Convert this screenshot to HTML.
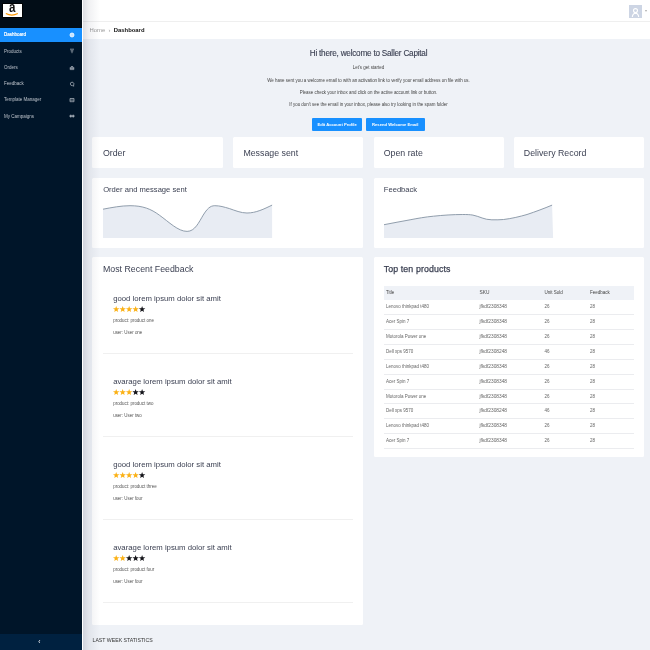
<!DOCTYPE html>
<html><head><meta charset="utf-8"><title>Dashboard</title>
<style>
*{box-sizing:border-box;margin:0;padding:0}
html,body{width:650px;height:650px;overflow:hidden;background:#eff2f7;font-family:"Liberation Sans",sans-serif;color:#3a3f51}
.abs{position:absolute}
#side{position:absolute;left:0;top:0;width:82.4px;height:650px;background:#001529;z-index:5}
#shade{position:absolute;left:82.4px;top:0;width:18px;height:650px;z-index:6;background:linear-gradient(90deg,#fff 0,#fff 1.4px,rgba(10,15,50,.13) 1.5px,rgba(10,15,50,.06) 7px,rgba(10,15,50,0) 18px)}
#logo{position:absolute;left:0;top:0;width:82px;height:28px;background:#020d17}
#logo .box{position:absolute;left:3px;top:3.9px;width:18.7px;height:12.7px;background:#fff;box-shadow:0 0 0 .8px #000}
#logo .a{position:absolute;left:0.2px;top:-3.5px;width:18.7px;text-align:center;font-size:14.5px;font-weight:bold;color:#111;line-height:1;transform:scaleX(.8)}
.mi{position:absolute;left:0;width:82.5px;height:13.5px;color:#bcc3cb;font-size:4.5px;line-height:13.5px;padding-left:4px}
.mi.act{background:#1890ff;color:#fff;text-shadow:0 0 .3px #fff}
.mi svg{position:absolute;left:68.900px;top:3.75px;width:6px;height:6px;stroke:#9fa8b3;fill:none;stroke-width:.8}
.mi.act svg{stroke:#fff}
#trig{position:absolute;left:0;top:633.7px;width:82.5px;height:16.3px;background:#002140;color:#fff;font-size:6.5px;text-align:center;line-height:15px;padding-right:4px}
#head{position:absolute;left:82px;top:0;width:568px;height:22px;background:#fff;border-bottom:1px solid #efefef}
#crumb{position:absolute;left:82px;top:22px;width:568px;height:16.5px;background:#fff;font-size:5.9px;line-height:16.6px;color:#9a9a9a;padding-left:7.5px}
#crumb b{color:#111}
#avatar{position:absolute;left:629px;top:4.5px;width:13px;height:13px;background:#cdd5e4}
.card{position:absolute;background:#fff;border-radius:1.5px}
.t1{position:absolute;font-size:8.8px;color:#3a3f51;white-space:nowrap}
.t2{position:absolute;margin-top:.6px;font-size:7.6px;color:#3a3f51;white-space:nowrap}
.c{position:absolute;left:87px;width:563px;text-align:center;white-space:nowrap}
.sm{font-size:4.45px;color:#444}
.btn{position:absolute;top:118.2px;height:13.2px;background:#1890ff;color:#fff;font-size:4.15px;font-weight:bold;line-height:13.2px;text-align:center;border-radius:1px}
.fb{position:absolute;left:0;width:271px}
.fb .ti{position:absolute;left:21px;top:0;font-size:7.75px;color:#3a3f51;white-space:nowrap}
.fb .st{position:absolute;left:20.7px;top:11.9px}
.fb .p{position:absolute;left:21px;font-size:4.45px;color:#555;margin-top:-.1px;white-space:nowrap}
.fb .hr{position:absolute;left:11px;width:250px;top:59.1px;height:1px;background:#f0f0f0}
.tr{position:absolute;left:10.500px;width:250px;height:14.9px;border-bottom:.8px solid #ebecef;font-size:4.5px;color:#666;line-height:14.7px}
.tr span{position:absolute;top:0;white-space:nowrap}
.tr .a{left:2px}.tr .b{left:95.500px;font-size:4.8px}.tr .c2{left:160.500px}.tr .d{left:206px}
.th{background:#eff2f7;border-bottom:none;color:#444;height:14.3px;line-height:14.3px}
</style></head><body>
<div id="side">
 <div id="logo"><div class="box"><div class="a">a</div><svg class="abs" style="left:0;top:0" width="18" height="13" viewBox="0 0 18 13"><path d="M2.800 9.600 Q9 12.600 14.800 9.600" fill="none" stroke="#f90" stroke-width="1.1"/></svg></div></div>
 <div class="mi act" style="top:28.3px">Dashboard<svg viewBox="0 0 6 6"><circle cx="3" cy="3" r="2" fill="#fff" fill-opacity=".75"/></svg></div>
 <div class="mi" style="top:44.6px">Products<svg viewBox="0 0 6 6"><path d="M1 1.200H5M1.600 2.800H4.400M3 2.800V5.200"/></svg></div>
 <div class="mi" style="top:60.8px">Orders<svg viewBox="0 0 6 6"><path d="M1.200 4.600V2.400H4.800V4.600ZM1.800 2.200 3 1 4.200 2.200M1 3.500H5"/></svg></div>
 <div class="mi" style="top:77.1px">Feedback<svg viewBox="0 0 6 6"><path d="M3 1.200A1.800 1.700 0 1 0 3.300 4.600L4.800 5.200 4.500 4A1.800 1.700 0 0 0 3 1.200Z"/></svg></div>
 <div class="mi" style="top:93.4px">Template Manager<svg viewBox="0 0 6 6"><path d="M1 1.500H5V4.700H1ZM1 3.100H5"/></svg></div>
 <div class="mi" style="top:109.6px">My Campaigns<svg viewBox="0 0 6 6"><path d="M1 2.200H2.400V4H1ZM3.600 2.200H5V4H3.600Z" fill="#aab2bc"/></svg></div>
 <div id="trig">&#x2039;</div>
</div>
<div id="shade"></div>
<div id="head"></div>
<div id="avatar"><svg width="13" height="13" viewBox="0 0 13 13"><circle cx="6.5" cy="4.6" r="2" fill="none" stroke="#fff" stroke-width="1.1"/><path d="M3.3 11 Q3.6 7.4 6.5 7.2 Q9.4 7.4 9.7 11" fill="none" stroke="#fff" stroke-width="1.1"/></svg></div>
<div class="abs" style="left:645px;top:10px;width:0;height:0;border-left:1.5px solid transparent;border-right:1.5px solid transparent;border-top:2px solid #aaa"></div>
<div id="crumb">Home &nbsp;&#x203A;&nbsp; <b>Dashboard</b></div>

<div class="c" style="top:49.2px;font-size:8.2px;letter-spacing:-.23px;color:#3a3f51;-webkit-text-stroke:.12px #3a3f51">Hi there, welcome to Saller Capital</div>
<div class="c sm" style="top:65.4px">Let's get started</div>
<div class="c sm" style="top:77.6px">We have sent you a welcome email to with an activation link to verify your email address on file with us.</div>
<div class="c sm" style="top:89.7px">Please check your inbox and click on the active account link or button.</div>
<div class="c sm" style="top:102.1px">If you don't see the email in your inbox, please also try looking in the spam folder</div>
<div class="btn" style="left:311.8px;width:50.6px">Edit Account Profile</div>
<div class="btn" style="left:365.7px;width:59.2px">Resend Welcome Email</div>

<div class="card" style="left:92.2px;top:136.8px;width:130.5px;height:31.5px"><div class="t1" style="left:10.7px;top:10.9px">Order</div></div>
<div class="card" style="left:233px;top:136.8px;width:130.1px;height:31.5px"><div class="t1" style="left:10.4px;top:10.9px">Message sent</div></div>
<div class="card" style="left:373.5px;top:136.8px;width:130.2px;height:31.5px"><div class="t1" style="left:10.2px;top:10.9px">Open rate</div></div>
<div class="card" style="left:513.8px;top:136.8px;width:130.4px;height:31.5px"><div class="t1" style="left:10px;top:10.9px">Delivery Record</div></div>

<div class="card" style="left:92.2px;top:177.8px;width:270.9px;height:69.8px"><div class="t2" style="left:11px;top:7px">Order and message sent</div>
<svg class="abs" style="left:11px;top:20.2px" width="170" height="42" viewBox="0 0 170 42"><path d="M0 11.2 C9 9.5 18 7.7 27 7.7 C40 7.7 48 11 56.3 17.1 C66 24 75 33.4 84.1 33.4 C92 33.4 96 24 100.2 17.1 C104 11 107 7.7 111.8 7.7 C117 7.7 121 9 126.5 10.6 C132 12.5 138 15 144 15 C153 15 161 11 169.1 7.1 L169.1 39.9 L0 39.9 Z" fill="#e8ecf3"/><path d="M0 11.2 C9 9.5 18 7.7 27 7.7 C40 7.7 48 11 56.3 17.1 C66 24 75 33.4 84.1 33.4 C92 33.4 96 24 100.2 17.1 C104 11 107 7.7 111.8 7.7 C117 7.7 121 9 126.5 10.6 C132 12.5 138 15 144 15 C153 15 161 11 169.1 7.1" fill="none" stroke="#8593a3" stroke-width="0.9"/></svg></div>
<div class="card" style="left:373.5px;top:177.8px;width:270.7px;height:69.8px"><div class="t2" style="left:10.3px;top:7px">Feedback</div>
<svg class="abs" style="left:10.2px;top:20.2px" width="170" height="42" viewBox="0 0 170 42"><path d="M0 26.7 C9 25 17 23.4 26.1 21.8 C34 20.3 41 19 49.5 18.2 C59 17.2 69 16.5 78.7 16.5 C83 16.5 86 16.6 88.9 17.1 C96 18.5 100 21.8 107.9 21.8 C112 21.9 116 21.8 119.6 21.5 C128 20.5 136 18.5 143 16.5 C152 13.5 160 10.5 168.1 7.1 L169.1 39.9 L0 39.9 Z" fill="#e8ecf3"/><path d="M0 26.7 C9 25 17 23.4 26.1 21.8 C34 20.3 41 19 49.5 18.2 C59 17.2 69 16.5 78.7 16.5 C83 16.5 86 16.6 88.9 17.1 C96 18.5 100 21.8 107.9 21.8 C112 21.9 116 21.8 119.6 21.5 C128 20.5 136 18.5 143 16.5 C152 13.5 160 10.5 168.1 7.1" fill="none" stroke="#8593a3" stroke-width="0.9"/></svg></div>

<div class="card" style="left:92.2px;top:257.2px;width:270.9px;height:368px"><div class="t1" style="left:10.8px;top:6.800px">Most Recent Feedback</div>
 <div class="fb" style="top:37px"><div class="ti">good lorem ipsum dolor sit amit</div><svg class="st" width="33" height="7" viewBox="0 0 33 7"><polygon points="3.20,0.04 4.03,2.26 6.40,2.36 4.54,3.84 5.17,6.12 3.20,4.81 1.23,6.12 1.86,3.84 0.00,2.36 2.37,2.26" fill="#fbb116"/><polygon points="9.68,0.04 10.50,2.26 12.87,2.36 11.02,3.84 11.65,6.12 9.68,4.81 7.70,6.12 8.33,3.84 6.48,2.36 8.85,2.26" fill="#fbb116"/><polygon points="16.15,0.04 16.98,2.26 19.35,2.36 17.49,3.84 18.12,6.12 16.15,4.81 14.18,6.12 14.81,3.84 12.95,2.36 15.32,2.26" fill="#fbb116"/><polygon points="22.62,0.04 23.45,2.26 25.82,2.36 23.97,3.84 24.60,6.12 22.62,4.81 20.65,6.12 21.28,3.84 19.43,2.36 21.80,2.26" fill="#fbb116"/><polygon points="29.10,0.04 29.93,2.26 32.30,2.36 30.44,3.84 31.07,6.12 29.10,4.81 27.13,6.12 27.76,3.84 25.90,2.36 28.27,2.26" fill="#15151a"/></svg><div class="p" style="top:24px">product: product one</div><div class="p" style="top:36px">user: User one</div><div class="hr"></div></div>
 <div class="fb" style="top:120px"><div class="ti">avarage lorem ipsum dolor sit amit</div><svg class="st" width="33" height="7" viewBox="0 0 33 7"><polygon points="3.20,0.04 4.03,2.26 6.40,2.36 4.54,3.84 5.17,6.12 3.20,4.81 1.23,6.12 1.86,3.84 0.00,2.36 2.37,2.26" fill="#fbb116"/><polygon points="9.68,0.04 10.50,2.26 12.87,2.36 11.02,3.84 11.65,6.12 9.68,4.81 7.70,6.12 8.33,3.84 6.48,2.36 8.85,2.26" fill="#fbb116"/><polygon points="16.15,0.04 16.98,2.26 19.35,2.36 17.49,3.84 18.12,6.12 16.15,4.81 14.18,6.12 14.81,3.84 12.95,2.36 15.32,2.26" fill="#fbb116"/><polygon points="22.62,0.04 23.45,2.26 25.82,2.36 23.97,3.84 24.60,6.12 22.62,4.81 20.65,6.12 21.28,3.84 19.43,2.36 21.80,2.26" fill="#15151a"/><polygon points="29.10,0.04 29.93,2.26 32.30,2.36 30.44,3.84 31.07,6.12 29.10,4.81 27.13,6.12 27.76,3.84 25.90,2.36 28.27,2.26" fill="#15151a"/></svg><div class="p" style="top:24px">product: product two</div><div class="p" style="top:36px">user: User two</div><div class="hr"></div></div>
 <div class="fb" style="top:203px"><div class="ti">good lorem ipsum dolor sit amit</div><svg class="st" width="33" height="7" viewBox="0 0 33 7"><polygon points="3.20,0.04 4.03,2.26 6.40,2.36 4.54,3.84 5.17,6.12 3.20,4.81 1.23,6.12 1.86,3.84 0.00,2.36 2.37,2.26" fill="#fbb116"/><polygon points="9.68,0.04 10.50,2.26 12.87,2.36 11.02,3.84 11.65,6.12 9.68,4.81 7.70,6.12 8.33,3.84 6.48,2.36 8.85,2.26" fill="#fbb116"/><polygon points="16.15,0.04 16.98,2.26 19.35,2.36 17.49,3.84 18.12,6.12 16.15,4.81 14.18,6.12 14.81,3.84 12.95,2.36 15.32,2.26" fill="#fbb116"/><polygon points="22.62,0.04 23.45,2.26 25.82,2.36 23.97,3.84 24.60,6.12 22.62,4.81 20.65,6.12 21.28,3.84 19.43,2.36 21.80,2.26" fill="#fbb116"/><polygon points="29.10,0.04 29.93,2.26 32.30,2.36 30.44,3.84 31.07,6.12 29.10,4.81 27.13,6.12 27.76,3.84 25.90,2.36 28.27,2.26" fill="#15151a"/></svg><div class="p" style="top:24px">product: product three</div><div class="p" style="top:36px">user: User four</div><div class="hr"></div></div>
 <div class="fb" style="top:286px"><div class="ti">avarage lorem ipsum dolor sit amit</div><svg class="st" width="33" height="7" viewBox="0 0 33 7"><polygon points="3.20,0.04 4.03,2.26 6.40,2.36 4.54,3.84 5.17,6.12 3.20,4.81 1.23,6.12 1.86,3.84 0.00,2.36 2.37,2.26" fill="#fbb116"/><polygon points="9.68,0.04 10.50,2.26 12.87,2.36 11.02,3.84 11.65,6.12 9.68,4.81 7.70,6.12 8.33,3.84 6.48,2.36 8.85,2.26" fill="#fbb116"/><polygon points="16.15,0.04 16.98,2.26 19.35,2.36 17.49,3.84 18.12,6.12 16.15,4.81 14.18,6.12 14.81,3.84 12.95,2.36 15.32,2.26" fill="#15151a"/><polygon points="22.62,0.04 23.45,2.26 25.82,2.36 23.97,3.84 24.60,6.12 22.62,4.81 20.65,6.12 21.28,3.84 19.43,2.36 21.80,2.26" fill="#15151a"/><polygon points="29.10,0.04 29.93,2.26 32.30,2.36 30.44,3.84 31.07,6.12 29.10,4.81 27.13,6.12 27.76,3.84 25.90,2.36 28.27,2.26" fill="#15151a"/></svg><div class="p" style="top:24px">product: product four</div><div class="p" style="top:36px">user: User four</div><div class="hr"></div></div>
</div>

<div class="card" style="left:373.5px;top:257.2px;width:270.7px;height:200px"><div class="t1" style="left:10.3px;top:6.900px;-webkit-text-stroke:.25px #3a3f51;letter-spacing:.1px">Top ten products</div>
 <div class="tr th" style="top:28.7px"><span class="a">Title</span><span class="b">SKU</span><span class="c2">Unit Sold</span><span class="d">Feedback</span></div>
 <div class="tr" style="top:43.0px"><span class="a">Lenovo thinkpad t480</span><span class="b">jfkdf2308348</span><span class="c2">26</span><span class="d">28</span></div>
 <div class="tr" style="top:57.9px"><span class="a">Acer Spin 7</span><span class="b">jfkdf2308348</span><span class="c2">26</span><span class="d">28</span></div>
 <div class="tr" style="top:72.8px"><span class="a">Motorola Power one</span><span class="b">jfkdf2308348</span><span class="c2">26</span><span class="d">28</span></div>
 <div class="tr" style="top:87.7px"><span class="a">Dell xps 9570</span><span class="b">jfkdf2308248</span><span class="c2">46</span><span class="d">28</span></div>
 <div class="tr" style="top:102.6px"><span class="a">Lenovo thinkpad t480</span><span class="b">jfkdf2308348</span><span class="c2">26</span><span class="d">28</span></div>
 <div class="tr" style="top:117.5px"><span class="a">Acer Spin 7</span><span class="b">jfkdf2308348</span><span class="c2">26</span><span class="d">28</span></div>
 <div class="tr" style="top:132.4px"><span class="a">Motorola Power one</span><span class="b">jfkdf2308348</span><span class="c2">26</span><span class="d">28</span></div>
 <div class="tr" style="top:147.3px"><span class="a">Dell xps 9570</span><span class="b">jfkdf2308248</span><span class="c2">46</span><span class="d">28</span></div>
 <div class="tr" style="top:162.2px"><span class="a">Lenovo thinkpad t480</span><span class="b">jfkdf2308348</span><span class="c2">26</span><span class="d">28</span></div>
 <div class="tr" style="top:177.1px"><span class="a">Acer Spin 7</span><span class="b">jfkdf2308348</span><span class="c2">26</span><span class="d">28</span></div>
</div>

<div class="abs" style="left:92.5px;top:636.5px;font-size:5.2px;color:#333;white-space:nowrap">LAST WEEK STATISTICS</div>
</body></html>
